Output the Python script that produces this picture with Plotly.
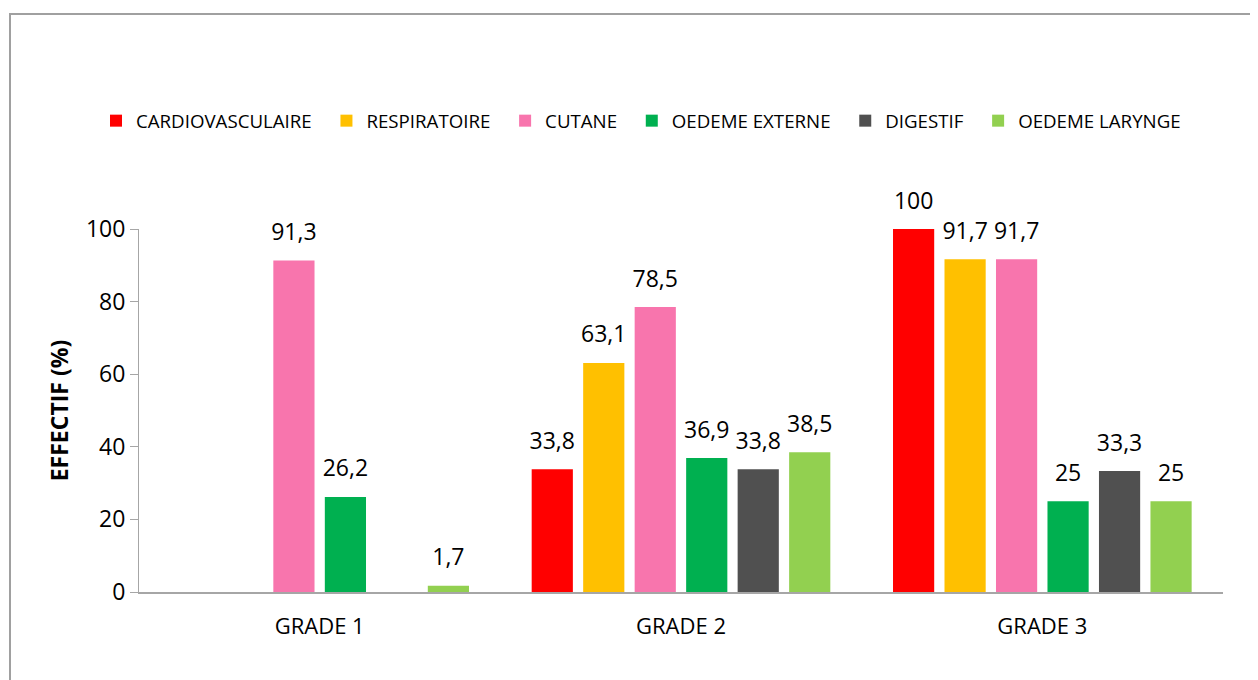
import plotly.graph_objects as go

categories = ["GRADE 1", "GRADE 2", "GRADE 3"]
series_names = ["CARDIOVASCULAIRE", "RESPIRATOIRE", "CUTANE", "OEDEME EXTERNE", "DIGESTIF", "OEDEME LARYNGE"]
cardio = [0, 33.8, 100]
respi = [0, 63.1, 91.7]
cutane = [91.3, 78.5, 91.7]
oedeme_ext = [26.2, 36.9, 25]
digestif = [0, 33.8, 33.3]
oedeme_lar = [1.7, 38.5, 25]
colors = ["#FF0000", "#FFC000", "#F875AD", "#00B050", "#505050", "#92D050"]

FONT = "Open Sans, Calibri, sans-serif"

def fmt(v):
    if v == 0:
        return ""
    return ("%g" % v).replace(".", ",")

fig = go.Figure()
all_vals = [cardio, respi, cutane, oedeme_ext, digestif, oedeme_lar]
n = len(series_names)
for i, (name, vals, col) in enumerate(zip(series_names, all_vals, colors)):
    pad = "&nbsp;" * 2 if i < n - 1 else ""
    fig.add_trace(go.Bar(
        name=name + pad, x=categories, y=vals, marker=dict(color=col, line=dict(width=0)),
        offsetgroup=str(i), hovertemplate=name + ": %{y}<extra></extra>",
    ))
    fig.add_trace(go.Scatter(
        x=categories, y=vals, mode="markers+text", text=[fmt(v) for v in vals],
        textposition="top center", textfont=dict(family=FONT, size=23, color="#000000"),
        marker=dict(size=22, opacity=0), offsetgroup=str(i), showlegend=False,
        hoverinfo="skip", cliponaxis=False,
    ))

OFF = 8  # page body margin
W, H = 1258 - OFF, 680 - OFF
L, R, T, B = 139 - OFF, 35, 229 - OFF, 88
pw, ph = W - L - R, H - T - B

def px_x(px):
    return (px - OFF - L) / pw

def px_y(py):
    return (H - B - (py - OFF)) / ph

fig.update_layout(
    width=W, height=H,
    margin=dict(l=L, r=R, t=T, b=B),
    paper_bgcolor="white", plot_bgcolor="white",
    barmode="group", bargap=0.145, bargroupgap=0.2,
    scattermode="group", scattergap=0.145,
    font=dict(family=FONT, size=18, color="#000000"),
    legend=dict(orientation="h", x=px_x(96), xanchor="left", y=px_y(121), yanchor="middle",
                font=dict(family=FONT, size=18.7, color="#000000"), traceorder="normal",
                itemwidth=30, bgcolor="rgba(0,0,0,0)"),
    xaxis=dict(showline=True, linecolor="#A6A6A6", linewidth=2, ticks="", showgrid=False,
               tickfont=dict(family=FONT, size=22), ticklabelstandoff=14),
    yaxis=dict(range=[0, 100], tickvals=[0, 20, 40, 60, 80, 100], showline=True,
               linecolor="#A6A6A6", linewidth=1, ticks="outside", ticklen=8, tickcolor="#A6A6A6",
               showgrid=False, zeroline=False, tickfont=dict(family=FONT, size=23),
               title=dict(text="<b>EFFECTIF (%)</b>", font=dict(family=FONT, size=23), standoff=10)),
    shapes=[dict(type="rect", xref="paper", yref="paper",
                 x0=px_x(10), x1=px_x(1275), y0=px_y(700), y1=px_y(14),
                 line=dict(color="#A0A0A0", width=2), fillcolor="rgba(0,0,0,0)", layer="below")],
)

fig.write_html("out.html")
